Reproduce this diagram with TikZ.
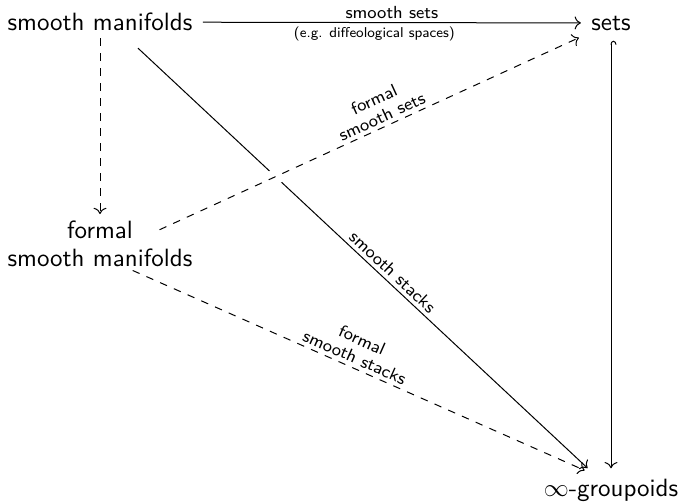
\documentclass[tikz,border=0pt]{standalone}
\usetikzlibrary{cd}
\begin{document}
\begin{tikzpicture}[x=0.4pt,y=-0.4pt,
  obj/.style={inner sep=4pt, font=\sffamily\fontsize{10}{11}\selectfont, align=center},
  lab/.style={inner sep=1.5pt, font=\sffamily\fontsize{7}{7.5}\selectfont, align=center},
  tinylab/.style={inner sep=1.5pt, font=\sffamily\fontsize{5.7}{7}\selectfont},
  arr/.style={-{tikzcd to}, line width=0.4pt},
  hookarr/.style={{tikzcd right hook}-{tikzcd to}, line width=0.4pt},
  crossover/.style={preaction={draw=white, solid, line width=6pt, -}}]
\useasboundingbox (0,0) rectangle (679,503);
\node[obj] (sm) at (100,22) {smooth manifolds};
\node[obj] (sets) at (611,23) {sets};
\node[obj] (fsm) at (100,244) {formal\\smooth manifolds};
\node[obj] (inf) at (611,490) {$\infty$-groupoids};
\draw[arr] (sm) -- (sets)
  node[midway, above, lab] {smooth sets}
  node[midway, below, tinylab, xshift=-7pt] {(e.g. diffeological spaces)};
\draw[arr, dashed, shorten <=6.4pt, shorten >=12pt] (sm.center) -- (fsm.center);
\draw[arr, shorten <=15.3pt, shorten >=12.8pt] ([xshift=4pt]sm.center) -- node[sloped, above, lab, pos=0.55] {smooth stacks} (inf.center);
\draw[arr, dashed, crossover, shorten <=26.2pt, shorten >=14.1pt] ([yshift=-5.2pt]fsm.center) -- node[sloped, above, lab, pos=0.56] {formal\\smooth sets} (sets.center);
\draw[arr, dashed, shorten <=14.3pt, shorten >=11.5pt] ([yshift=-4.8pt]fsm.center) -- node[sloped, above, lab, pos=0.49] {formal\\smooth stacks} ([yshift=3.2pt]inf.center);
\draw[hookarr] (sets) -- (inf);
\end{tikzpicture}
\end{document}
